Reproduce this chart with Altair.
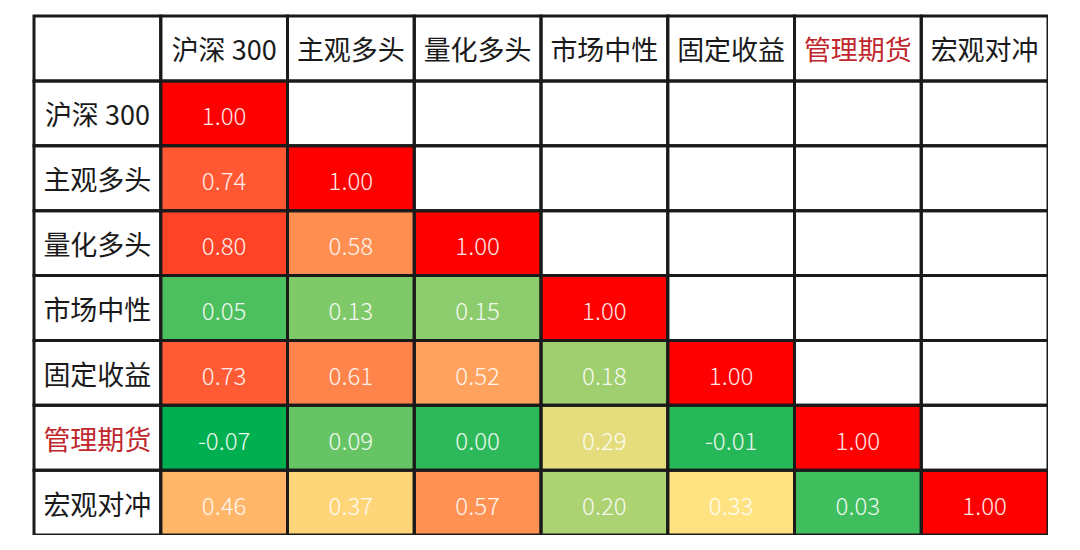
import altair as alt
import pandas as pd

cats = ["沪深 300", "主观多头", "量化多头", "市场中性", "固定收益", "管理期货", "宏观对冲"]
# lower-triangle correlation rows (including the diagonal)
row_hs300 = [1.00]
row_zgdt = [0.74, 1.00]
row_lhdt = [0.80, 0.58, 1.00]
row_sczx = [0.05, 0.13, 0.15, 1.00]
row_gdsy = [0.73, 0.61, 0.52, 0.18, 1.00]
row_glqh = [-0.07, 0.09, 0.00, 0.29, -0.01, 1.00]
row_hgdc = [0.46, 0.37, 0.57, 0.20, 0.33, 0.03, 1.00]
rows = [row_hs300, row_zgdt, row_lhdt, row_sczx, row_gdsy, row_glqh, row_hgdc]
red_labels = ["管理期货"]

LAB = "__lab__"
HDR = "__hdr__"
x_dom = [LAB] + cats
y_dom = [HDR] + cats

cells = []
for r, vals in zip(cats, rows):
    for c, v in zip(cats, vals):
        cells.append({"row": r, "col": c, "value": v, "text": f"{v:.2f}"})
cells = pd.DataFrame(cells)

grid = pd.DataFrame([{"row": r, "col": c} for r in y_dom for c in x_dom])

heads = [{"row": HDR, "col": c, "text": c, "red": c in red_labels} for c in cats]
heads += [{"row": r, "col": LAB, "text": r, "red": r in red_labels} for r in cats]
heads = pd.DataFrame(heads)

FONT = "Noto Sans CJK SC"
xenc = alt.X("col:N", scale=alt.Scale(domain=x_dom, paddingInner=0, paddingOuter=0), axis=None)
yenc = alt.Y("row:N", scale=alt.Scale(domain=y_dom, paddingInner=0, paddingOuter=0), axis=None)

heat = alt.Chart(cells).mark_rect().encode(
    x=xenc, y=yenc,
    color=alt.Color("value:Q", legend=None,
                    scale=alt.Scale(domain=[-0.07, 0.33, 1.0],
                                    range=["#00b050", "#ffe282", "#ff0000"],
                                    interpolate="rgb")),
)

lines = alt.Chart(grid).mark_rect(fillOpacity=0, stroke="#1a1a1a", strokeWidth=3).encode(
    x=xenc, y=yenc
)

vals = alt.Chart(cells).mark_text(font=FONT, fontSize=24, fontWeight=300, color="#ffffff",
                                  opacity=0.9, dy=5).encode(
    x=xenc, y=yenc, text="text:N"
)

labels = alt.Chart(heads).mark_text(font=FONT, fontSize=27, dy=4).encode(
    x=xenc, y=yenc, text="text:N",
    color=alt.condition("datum.red", alt.value("#c0272d"), alt.value("#1a1a1a")),
)

chart = alt.layer(heat, lines, vals, labels).properties(
    width=1014, height=519, autosize="none",
    padding={"left": 26, "top": 8, "right": 0, "bottom": 0},
    background="#ffffff",
).configure_view(strokeWidth=0)

chart.save("out.html", embed_options={"renderer": "svg", "actions": False})
